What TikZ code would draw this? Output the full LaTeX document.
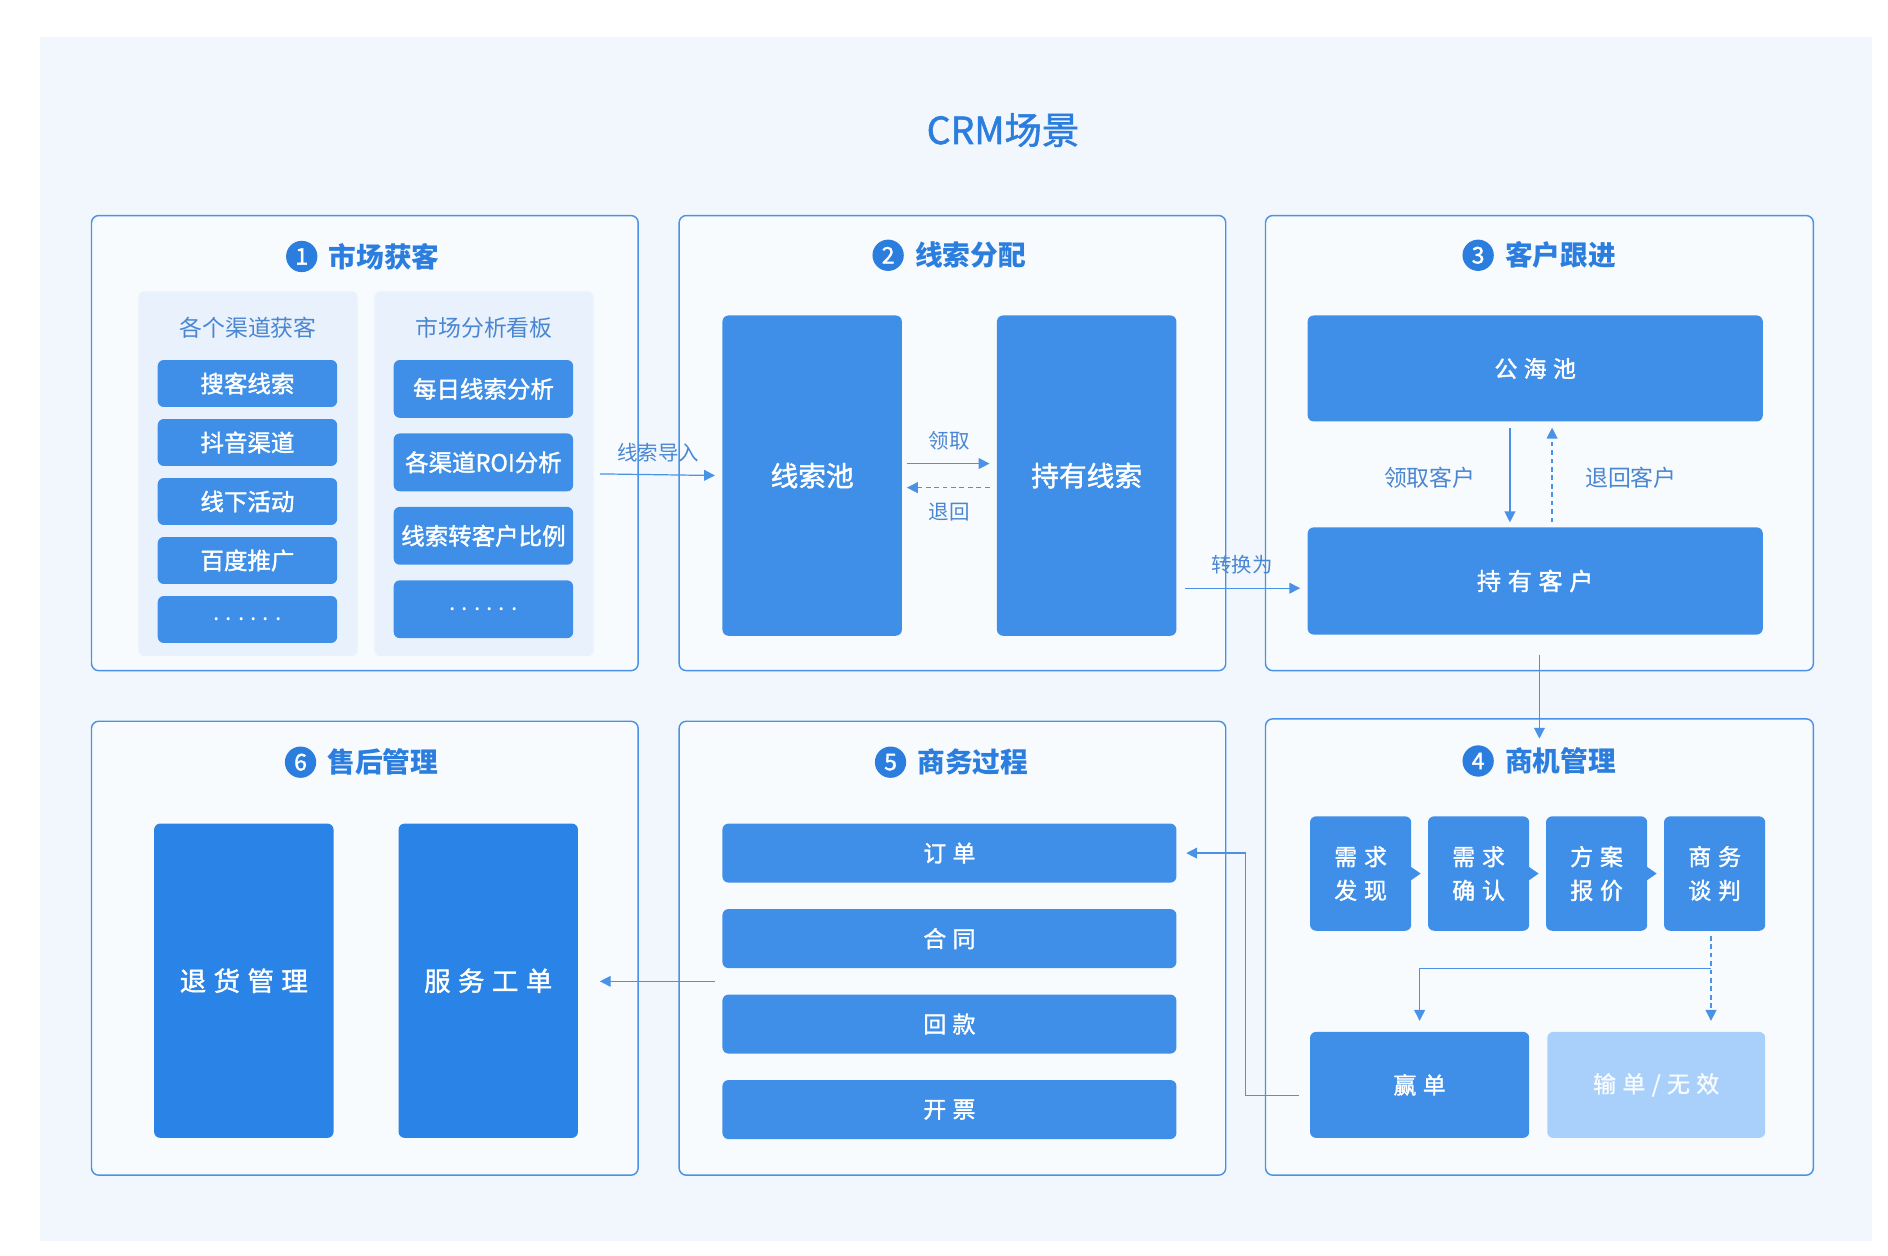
\documentclass[tikz,border=0pt]{standalone}
\usepackage{fontspec}
\setmainfont{Noto Sans CJK SC}
\newfontfamily\medfont[FakeBold=1.5]{Noto Sans CJK SC}
\usetikzlibrary{positioning, calc, arrows.meta}
\definecolor{bgcol}{HTML}{F2F7FD}
\definecolor{panelline}{HTML}{4A92E6}
\definecolor{subcol}{HTML}{E9F2FC}
\definecolor{boxcol}{HTML}{3F8FE8}
\definecolor{deepbox}{HTML}{2A83E7}
\definecolor{lightbox}{HTML}{A9D0FA}
\definecolor{headcol}{HTML}{2B7DDE}
\definecolor{labcol}{HTML}{4A86D2}
\newcommand{\moredots}{{\fontsize{19pt}{19pt}\normalfont\selectfont .\hspace{5pt}.\hspace{5pt}.\hspace{5pt}.\hspace{5pt}.\hspace{5pt}.}}
\tikzset{
    panel/.style={draw=panelline, line width=1.2pt, rounded corners=6pt, fill=bgcol!50!white, inner sep=0pt}, % the six big frames
    subpanel/.style={fill=subcol, rounded corners=5pt, inner sep=0pt},
    blk/.style={fill=boxcol, text=white, rounded corners=5pt, inner sep=0pt, align=center},
    btn/.style={blk, minimum width=149pt, font=\fontsize{19.5pt}{19.5pt}\medfont},
    spaced/.style={font=\fontsize{#1pt}{#1pt}\medfont\addfontfeature{LetterSpace=28}},
    headtxt/.style={inner sep=0pt, text=headcol, font=\fontsize{23pt}{23pt}\selectfont\bfseries},
    numdot/.style={circle, fill=headcol, text=white, minimum size=26pt, inner sep=0pt, font=\fontsize{19pt}{19pt}\medfont},
    subhead/.style={text=labcol, font=\fontsize{19pt}{19pt}\selectfont},
    lbl/.style={text=labcol, inner sep=0pt, font=\fontsize{17pt}{17pt}\selectfont},
    biglbl/.style={lbl, font=\fontsize{19pt}{19pt}\selectfont},
    arr/.style={draw=panelline, line width=1pt, -{Triangle[length=9pt,width=9pt]}},
    dsh/.style={arr, dash pattern=on 4pt off 3pt},
    tri/.style={draw=boxcol, fill=boxcol, -{Triangle[length=8pt,width=11pt]}, shorten >=6pt}, % arrow head only
}
\begin{document}
\begin{tikzpicture}[x=1pt, y=-1pt]
\useasboundingbox (0,0) rectangle (1568,1043);
\fill[bgcol] (33,31) rectangle (1555,1031);
\node[text=headcol, font=\fontsize{31pt}{31pt}\medfont] (title) at (833,108) {CRM场景};

% frames
\node[panel, minimum width=454pt, minimum height=378pt] (p1) at (303,368) {};
\node[panel, minimum width=454pt, minimum height=378pt] (p2) at (791,368) {};
\node[panel, minimum width=455pt, minimum height=378pt] (p3) at (1278.5,368) {};
\node[panel, minimum width=454pt, minimum height=377pt] (p6) at (303,787.5) {};
\node[panel, minimum width=454pt, minimum height=377pt] (p5) at (791,787.5) {};
\node[panel, minimum width=455pt, minimum height=379pt] (p4) at (1278.5,786.5) {};

% headers
\node[headtxt] (h1) at (319,213) {市场获客};
\node[numdot, left=9pt of h1] (n1) {1};
\node[headtxt] (h2) at (806,212) {线索分配};
\node[numdot, left=9pt of h2] (n2) {2};
\node[headtxt] (h3) at (1296,212) {客户跟进};
\node[numdot, left=9pt of h3] (n3) {3};
\node[headtxt] (h4) at (1296,632) {商机管理};
\node[numdot, left=9pt of h4] (n4) {4};
\node[headtxt] (h5) at (808,633) {商务过程};
\node[numdot, left=9pt of h5] (n5) {5};
\node[headtxt] (h6) at (318,633) {售后管理};
\node[numdot, left=9pt of h6] (n6) {6};

% 1: market
\node[subpanel, minimum width=182pt, minimum height=303pt] (sub1) at (206,393.5) {};
\node[subpanel, minimum width=182pt, minimum height=303pt] (sub2) at (402,393.5) {};
\node[subhead] (sh1) at (206,272) {各个渠道获客};
\node[subhead] (sh2) at (402,272) {市场分析看板};
\foreach \t [count=\i] in {搜客线索, 抖音渠道, 线下活动, 百度推广, \moredots}
    \node[btn, minimum height=39pt] (ch\i) at (205.5,269.5+49*\i) {\t};
\foreach \t [count=\i] in {每日线索分析, 各渠道ROI分析, 线索转客户比例, \moredots}
    \node[btn, minimum height=48pt] (kb\i) at (401.5,262+61*\i) {\t};

% 2: leads
\node[blk, minimum width=149pt, minimum height=266pt, font=\fontsize{23pt}{23pt}\medfont] (pool) at (674.5,395) {线索池};
\node[blk, minimum width=149pt, minimum height=266pt, font=\fontsize{23pt}{23pt}\medfont] (hold) at (902.5,395) {持有线索};
\draw[arr, shorten <=5pt, shorten >=6pt] (sub2.east) -- (pool.west) node[lbl, midway, above=10pt] {线索导入};
\draw[arr, shorten <=4pt, shorten >=6pt] ([yshift=10pt]pool.east) -- ([yshift=10pt]hold.west) node[lbl, midway, above=11pt] {领取};
\draw[dsh, shorten <=6pt, shorten >=4pt] ([yshift=-10pt]hold.west) -- ([yshift=-10pt]pool.east) node[lbl, midway, below=12pt] {退回};

% 3: customers
\node[blk, minimum width=378pt, minimum height=88pt, spaced=19] (sea) at (1275,306) {公海池};
\node[blk, minimum width=378pt, minimum height=89pt, spaced=20] (cust) at (1275,482.5) {持有客户};
\draw[arr, shorten <=5pt, shorten >=4pt] ([xshift=-21pt]sea.south) -- ([xshift=-21pt]cust.north) node[biglbl, midway, left=28pt, yshift=-3pt] {领取客户};
\draw[dsh, shorten <=4pt, shorten >=5pt] ([xshift=14pt]cust.north) -- ([xshift=14pt]sea.south) node[biglbl, midway, right=27pt, yshift=-3pt] {退回客户};
\coordinate (cin) at ([yshift=-6pt]cust.west);
\draw[arr, shorten <=7pt, shorten >=6pt] (hold.east |- cin) -- (cin) node[lbl, midway, above=11pt] {转换为};
\draw[arr] ([yshift=14pt]p3.south) -- ([yshift=-17pt]p4.north);

% 4: opportunities
\foreach \t [count=\i] in {需求\\发现, 需求\\确认, 方案\\报价, 商务\\谈判}
    \node[blk, minimum width=84pt, minimum height=95pt, font=\fontsize{19pt}{28pt}\medfont\addfontfeature{LetterSpace=30}] (s\i) at (1032+98*\i,725.5) {\t};
\foreach \a/\b in {1/2, 2/3, 3/4}
    \draw[tri] (s\a.east) -- (s\b.west);
\node[blk, minimum width=182pt, minimum height=88pt, spaced=19] (win) at (1179,901) {赢单};
\node[blk, fill=lightbox, text=white!92!lightbox, minimum width=181pt, minimum height=88pt, spaced=19] (lose) at (1375.5,901) {输单/无效};
\coordinate (fork) at ([xshift=-3pt, yshift=-31pt]s4.south);
\draw[dsh, shorten <=4pt, shorten >=9pt] ([xshift=-3pt]s4.south) -- (fork |- lose.north);
\draw[arr, shorten >=9pt] (fork) -| (win.north);

% 5: business
\foreach \t/\n [count=\i] in {订单/dd, 合同/ht, 回款/hk, 开票/kp}
    \node[blk, minimum width=377pt, minimum height=49pt, spaced=19] (\n) at (788.5,637.5+71*\i) {\t};
\coordinate (mid) at ($(p5.east)!.5!(p4.west)$);
\coordinate (wout) at ([xshift=-9pt, yshift=-9pt]win.west);
\draw[arr, shorten >=8pt] (wout) -- (mid |- wout) |- (dd.east);

% 6: after sales
\node[blk, fill=deepbox, minimum width=149pt, minimum height=261pt, spaced=22] (ret) at (202.5,814.5) {退货管理};
\node[blk, fill=deepbox, minimum width=149pt, minimum height=261pt, spaced=22] (svc) at (405.5,814.5) {服务工单};
\coordinate (r5) at ($(ht.west)!.5!(hk.west)$);
\draw[arr, shorten <=6pt, shorten >=18pt] (r5) -- (r5 -| svc.east);
\end{tikzpicture}
\end{document}
